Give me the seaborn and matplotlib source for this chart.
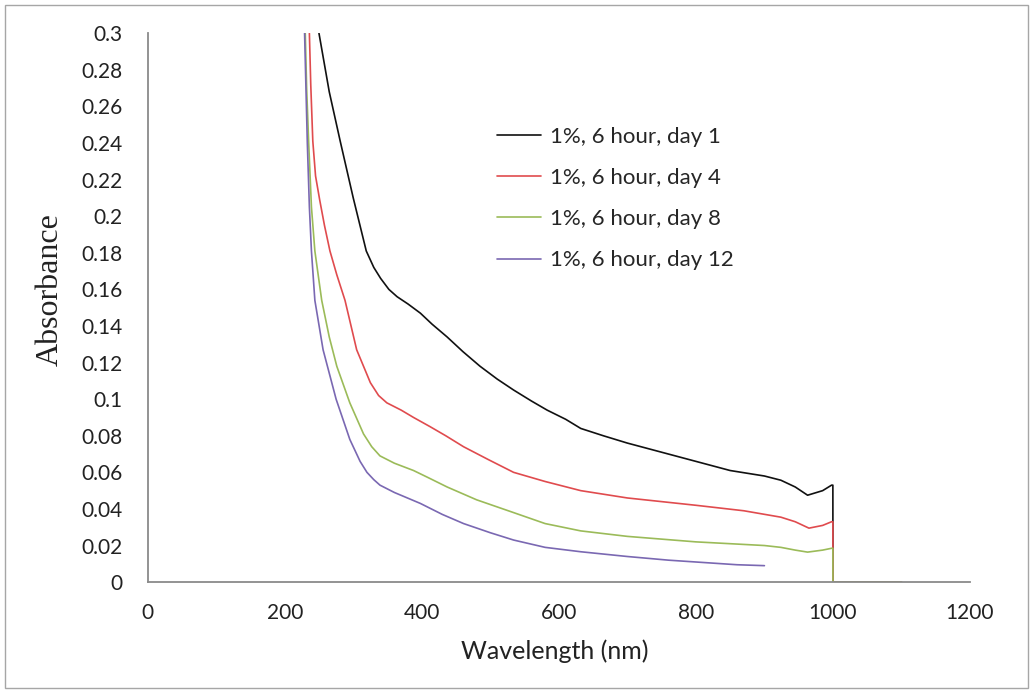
import matplotlib
matplotlib.use('Agg')
import matplotlib.pyplot as plt
import seaborn as sns
import pandas as pd
from matplotlib.patches import Rectangle

# Absorbance spectra
wl_day1 = [250, 265, 281, 300, 319, 330, 340, 352, 364, 380, 398, 415, 437, 460, 485, 510, 534,
           560, 583, 610, 632, 665, 700, 730, 760, 800, 850, 900, 924, 945, 963, 985, 998, 999.9, 1000, 1100]
abs_day1 = [0.300, 0.268, 0.241, 0.210, 0.181, 0.172, 0.166, 0.160, 0.156, 0.152, 0.147, 0.141, 0.134, 0.126, 0.118, 0.111, 0.105,
            0.099, 0.094, 0.089, 0.084, 0.080, 0.076, 0.073, 0.070, 0.066, 0.061, 0.058, 0.0557, 0.052, 0.0475, 0.050, 0.053, 0.053, 0.0, 0.0]

wl_day4 = [236, 238, 241, 245, 251, 258, 266, 276, 288, 305, 325, 337, 349, 370, 388, 412, 435, 461,
           497, 534, 580, 632, 700, 750, 800, 870, 924, 945, 965, 985, 998, 999.9, 1000, 1100]
abs_day4 = [0.300, 0.272, 0.241, 0.222, 0.209, 0.195, 0.181, 0.168, 0.154, 0.127, 0.109, 0.102, 0.098, 0.094, 0.090, 0.085, 0.080, 0.074,
            0.067, 0.060, 0.055, 0.050, 0.046, 0.044, 0.042, 0.039, 0.0355, 0.033, 0.0295, 0.031, 0.033, 0.033, 0.0, 0.0]

wl_day8 = [230, 232, 235, 239, 244, 254, 265, 276, 295, 315, 327, 339, 360, 388, 410, 437, 480, 534,
           580, 632, 700, 800, 900, 924, 945, 963, 985, 998, 999.9, 1000, 1100]
abs_day8 = [0.300, 0.270, 0.240, 0.205, 0.181, 0.154, 0.134, 0.118, 0.098, 0.081, 0.074, 0.069, 0.065, 0.061, 0.057, 0.052, 0.045, 0.038,
            0.032, 0.028, 0.025, 0.022, 0.020, 0.019, 0.0175, 0.0164, 0.0175, 0.0185, 0.0185, 0.0, 0.0]

wl_day12 = [229, 231, 233, 236, 239, 244, 256, 275, 295, 310, 320, 330, 339, 360, 398, 430, 461,
            500, 534, 580, 632, 700, 760, 800, 860, 900]
abs_day12 = [0.300, 0.270, 0.240, 0.205, 0.181, 0.154, 0.127, 0.100, 0.078, 0.066, 0.060, 0.056, 0.053, 0.049, 0.043, 0.037, 0.032,
             0.027, 0.023, 0.019, 0.0166, 0.014, 0.012, 0.011, 0.0095, 0.009]

labels = ['1%, 6 hour, day 1', '1%, 6 hour, day 4', '1%, 6 hour, day 8', '1%, 6 hour, day 12']
colors = ['#111111', '#E04B4E', '#9BBB59', '#7A68B2']

frames = []
for lab, wl, ab in zip(labels, [wl_day1, wl_day4, wl_day8, wl_day12],
                       [abs_day1, abs_day4, abs_day8, abs_day12]):
    frames.append(pd.DataFrame({'Wavelength': wl, 'Absorbance': ab, 'Sample': lab}))
df = pd.concat(frames, ignore_index=True)

sns.set_style('white')
plt.rcParams['font.family'] = ['Lato', 'DejaVu Sans']

fig = plt.figure(figsize=(10.34, 6.93), dpi=100)
ax = fig.add_axes([0.1428, 0.160, 0.7953, 0.792])

sns.lineplot(data=df, x='Wavelength', y='Absorbance', hue='Sample',
             palette=dict(zip(labels, colors)), sort=False, estimator=None,
             linewidth=1.2, ax=ax)

ax.set_xlim(0, 1200)
ax.set_ylim(0, 0.3)
ax.set_xticks(range(0, 1201, 200))
yt = [i * 0.02 for i in range(16)]
ax.set_yticks(yt)
ax.set_yticklabels(['0'] + [('%.2f' % v).rstrip('0') for v in yt[1:]])

for side in ['top', 'right']:
    ax.spines[side].set_visible(False)
for side in ['left', 'bottom']:
    ax.spines[side].set_color('#8a8a8a')
    ax.spines[side].set_linewidth(1.3)
ax.tick_params(axis='both', direction='out', length=5, width=1.2, color='#8a8a8a',
               labelsize=15, labelcolor='#222222')
ax.tick_params(axis='x', pad=10)
ax.tick_params(axis='y', pad=13)

ax.set_xlabel('')
ax.set_ylabel('')
fig.text(555 / 1034, 1 - 651 / 693, 'Wavelength (nm)', fontsize=18, color='#222222',
         ha='center', va='center')
fig.text(50 / 1034, 1 - 290 / 693, 'Absorbance', fontsize=23, family=['Liberation Serif'],
         color='#222222', rotation=90, ha='center', va='center')

handles, labs = ax.get_legend_handles_labels()
ax.legend(handles, labs, loc='upper left', bbox_to_anchor=(497 / 1034, 1 - 127 / 693),
          bbox_transform=fig.transFigure, frameon=False, fontsize=16,
          handlelength=2.0, handletextpad=0.4, labelspacing=0.95,
          borderpad=0, borderaxespad=0)

fig.patches.append(Rectangle((5 / 1034, 5 / 693), 1023 / 1034, 683 / 693,
                             transform=fig.transFigure, fill=False,
                             edgecolor='#a6a6a6', linewidth=1.0))

fig.savefig('out.png', dpi=100)
